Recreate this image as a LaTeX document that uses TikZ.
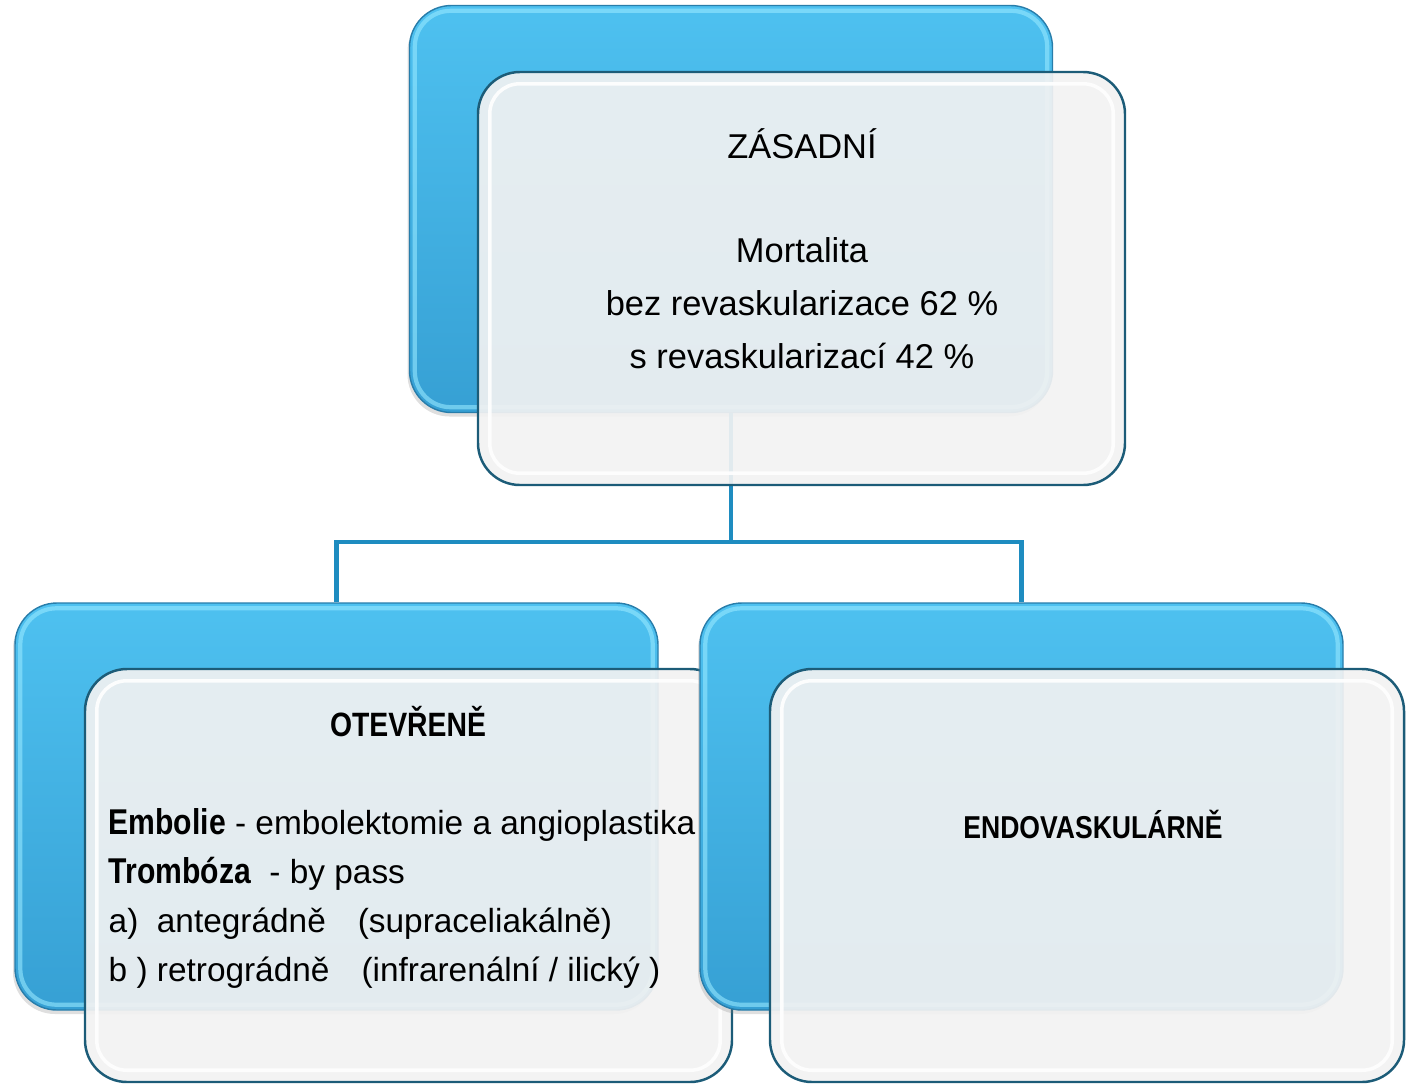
\documentclass[tikz,border=0pt]{standalone}
\usepackage{fontspec}
\setmainfont{Liberation Sans}
\newfontfamily\headfont[FakeStretch=0.84]{Liberation Sans}
\usepackage{tikz}
\usetikzlibrary{positioning,calc,shadows}
\definecolor{skyblue}{RGB}{78,193,240}
\definecolor{deepsky}{RGB}{54,160,212}
\definecolor{rimblue}{RGB}{40,125,170}
\definecolor{bevelcyan}{RGB}{150,232,255}
\definecolor{paneltint}{RGB}{242,242,242}
\definecolor{panelline}{RGB}{28,92,120}
\definecolor{linkblue}{RGB}{30,140,192}

\begin{document}
\begin{tikzpicture}[
    back/.style={draw=rimblue,line width=0.4pt,rounded corners=0.42cm,
                 top color=skyblue,bottom color=deepsky,inner sep=0pt,
                 minimum width=6.43cm,minimum height=4.07cm,
                 drop shadow={shadow xshift=-0.02cm,shadow yshift=-0.04cm,opacity=0.25}},
    front/.style={draw=panelline,line width=0.7pt,rounded corners=0.42cm,
                  fill=paneltint,fill opacity=0.92,inner sep=0pt,
                  minimum width=6.47cm,minimum height=4.13cm},
    bevel/.style={draw=bevelcyan,draw opacity=0.6,line width=1.2pt,rounded corners=0.36cm},
    gloss/.style={draw=white,draw opacity=0.9,line width=1pt,rounded corners=0.3cm},
    link/.style={draw=linkblue,line width=1.3pt},
    txt/.style={font=\fontsize{9.8}{15}\selectfont,inner sep=0pt},
    head/.style={font=\headfont\bfseries\fontsize{9.6}{10}\selectfont,inner sep=0pt}]
  \useasboundingbox (0,0) rectangle (14.06,10.84);

  % top: ZASADNI
  \node[back] (zas) at (7.31,8.75) {};
  \draw[bevel] ($(zas.south west)+(0.06,0.06)$) rectangle ($(zas.north east)-(0.06,0.06)$);
  \coordinate (fork) at ($(zas.south)+(0,-1.29)$);
  \draw[link] (zas.south) -- (fork);
  \node[front] (zasT) at (8.015,8.055) {};
  \draw[gloss] ($(zasT.south west)+(0.13,0.13)$) rectangle ($(zasT.north east)-(0.13,0.13)$);
  \node[txt,anchor=base] (zasH) at (8.02,9.26) {ZÁSADNÍ};
  \node[txt,align=center] (zasB) at (8.02,7.81)
    {Mortalita\\bez revaskularizace 62 \%\\s revaskularizací 42 \%};

  % left: OTEVRENE
  \node[back] (ote) at (3.365,2.775) {};
  \draw[bevel] ($(ote.south west)+(0.06,0.06)$) rectangle ($(ote.north east)-(0.06,0.06)$);
  \node[front] (oteT) at (4.085,2.085) {};
  \draw[gloss] ($(oteT.south west)+(0.13,0.13)$) rectangle ($(oteT.north east)-(0.13,0.13)$);
  \node[head,anchor=base] (oteH) at (4.08,3.48) {OTEVŘENĚ};
  \node[txt,align=left,anchor=north west,font=\fontsize{9.5}{13.9}\selectfont] (oteB) at (1.08,2.76)
    {{\headfont\bfseries\fontsize{10.2}{13.9}\selectfont Embolie} - embolektomie a angioplastika\\
     {\headfont\bfseries\fontsize{10.2}{13.9}\selectfont Trombóza}\ \ - by pass\\
     a)\ \ antegrádně\hspace{0.32cm}(supraceliakálně)\\
     b ) retrográdně\hspace{0.32cm}(infrarenální / ilický )};

  % right: ENDOVASKULARNE
  \node[back] (endo) at (10.215,2.775) {};
  \draw[bevel] ($(endo.south west)+(0.06,0.06)$) rectangle ($(endo.north east)-(0.06,0.06)$);
  \node[front,minimum width=6.34cm] (endoT) at (10.87,2.085) {};
  \draw[gloss] ($(endoT.south west)+(0.13,0.13)$) rectangle ($(endoT.north east)-(0.13,0.13)$);
  \node[head,anchor=base,font=\headfont\bfseries\fontsize{9}{10}\selectfont] (endoH) at (10.93,2.46) {ENDOVASKULÁRNĚ};

  \draw[link] (fork) -| (ote.north);
  \draw[link] (fork) -| (endo.north);
\end{tikzpicture}
\end{document}
